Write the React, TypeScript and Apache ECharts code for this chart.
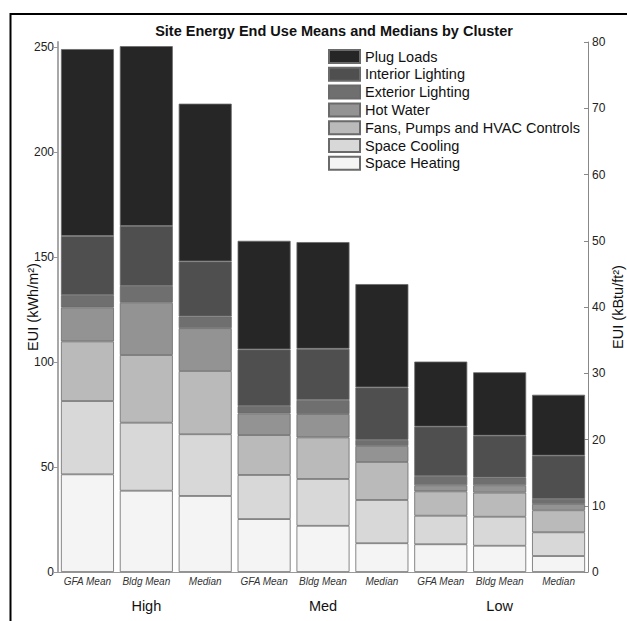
import React, { useEffect, useRef } from "react";
import * as echarts from "echarts";

const categories = ["GFA Mean", "Bldg Mean", "Median", "GFA Mean", "Bldg Mean", "Median", "GFA Mean", "Bldg Mean", "Median"];
const groups = ["High", "Med", "Low"];

const spaceHeating = [46.5, 38.7, 36.2, 25.2, 22.0, 13.7, 13.2, 12.5, 7.6];
const spaceCooling = [34.9, 32.4, 29.4, 21.0, 22.3, 20.6, 13.6, 13.8, 11.3];
const fansPumpsHvac = [28.4, 32.2, 30.1, 19.0, 19.8, 18.1, 11.6, 11.5, 10.5];
const hotWater = [16.2, 24.9, 20.4, 10.3, 11.1, 7.6, 2.9, 3.5, 3.0];
const exteriorLighting = [5.8, 8.0, 5.6, 3.5, 6.7, 2.9, 4.4, 3.6, 2.4];
const interiorLighting = [28.2, 28.6, 26.2, 27.0, 24.4, 25.0, 23.5, 20.0, 20.6];
const plugLoads = [89.0, 85.6, 75.1, 51.7, 50.8, 49.2, 31.0, 30.2, 29.0];

const leftTicks = [0, 50, 100, 150, 200, 250];
const rightMax = 80;
const kbtuToKwh = 3.1546;

const seriesDefs = [
  { name: "Space Heating", data: spaceHeating, color: "#f4f4f4" },
  { name: "Space Cooling", data: spaceCooling, color: "#d8d8d8" },
  { name: "Fans, Pumps and HVAC Controls", data: fansPumpsHvac, color: "#bababa" },
  { name: "Hot Water", data: hotWater, color: "#939393" },
  { name: "Exterior Lighting", data: exteriorLighting, color: "#6f6f6f" },
  { name: "Interior Lighting", data: interiorLighting, color: "#4f4f4f" },
  { name: "Plug Loads", data: plugLoads, color: "#262626" },
];

const FONT = "Liberation Sans, Arial, sans-serif";

export default function App() {
  const ref = useRef<HTMLDivElement>(null);
  useEffect(() => {
    if (!ref.current) return;
    const chart = echarts.init(ref.current, undefined, { renderer: "svg" });
    chart.setOption({
      animation: false,
      backgroundColor: "#ffffff",
      textStyle: { fontFamily: FONT },
      title: {
        text: "Site Energy End Use Means and Medians by Cluster",
        left: 329,
        top: 18,
        textAlign: "center",
        textStyle: { fontFamily: FONT, fontSize: 14.5, fontWeight: "bold", color: "#111" },
      },
      graphic: [
        {
          type: "rect",
          shape: { x: 10.5, y: 14, width: 700, height: 700 },
          style: { fill: "none", stroke: "#000", lineWidth: 2 },
          silent: true,
        },
      ],
      legend: {
        orient: "vertical",
        left: 328,
        top: 49,
        padding: 0,
        itemWidth: 31,
        itemHeight: 13,
        itemGap: 2.8,
        icon: "rect",
        data: [...seriesDefs].reverse().map((s) => s.name),
        textStyle: { fontFamily: FONT, fontSize: 14.5, color: "#111" },
      },
      grid: { left: 58, right: 39, top: 42, bottom: 49, containLabel: false, outerBoundsMode: "none" },
      xAxis: [
        {
          type: "category",
          data: categories,
          axisLine: { lineStyle: { color: "#999", width: 1 } },
          axisTick: { show: false },
          axisLabel: {
            interval: 0,
            fontStyle: "italic",
            fontSize: 10,
            color: "#333",
            margin: 4,
            fontFamily: FONT,
          },
        },
        {
          type: "category",
          data: groups,
          position: "bottom",
          axisLine: { show: false },
          axisTick: { show: false },
          axisLabel: { fontSize: 14.5, color: "#111", margin: 26, fontFamily: FONT },
        },
      ],
      yAxis: [
        {
          type: "value",
          min: 0,
          max: rightMax * kbtuToKwh,
          interval: 50,
          position: "left",
          name: "EUI (kWh/m²)",
          nameLocation: "middle",
          nameRotate: 90,
          nameGap: 18,
          nameMoveOverlap: false,
          nameTextStyle: { fontFamily: FONT, fontSize: 14.5, color: "#111" },
          axisLine: { show: true, lineStyle: { color: "#a8a8a8", width: 2 } },
          axisTick: { show: true, inside: false, length: 4, lineStyle: { color: "#999" }, customValues: leftTicks },
          axisLabel: { fontSize: 12, color: "#222", margin: 4, customValues: leftTicks, fontFamily: FONT },
          splitLine: { show: false },
        },
        {
          type: "value",
          min: 0,
          max: rightMax,
          interval: 10,
          position: "right",
          name: "EUI (kBtu/ft²)",
          nameLocation: "middle",
          nameRotate: 90,
          nameGap: 22,
          nameMoveOverlap: false,
          nameTextStyle: { fontFamily: FONT, fontSize: 14.5, color: "#111" },
          axisLine: { show: true, lineStyle: { color: "#888", width: 1 } },
          axisTick: { show: true, inside: true, length: 4, lineStyle: { color: "#888" } },
          axisLabel: { fontSize: 12, color: "#222", margin: 4, fontFamily: FONT },
          splitLine: { show: false },
        },
      ],
      series: seriesDefs.map((s) => ({
        name: s.name,
        type: "bar",
        stack: "total",
        xAxisIndex: 0,
        yAxisIndex: 0,
        barCategoryGap: "10%",
        data: s.data,
        itemStyle: { color: s.color, borderColor: "#6a6a6a", borderWidth: 0.8 },
        emphasis: { disabled: true },
      })),
    });
    return () => chart.dispose();
  }, []);
  return <div ref={ref} style={{ position: "fixed", left: 0, top: 0, width: 627, height: 621 }} />;
}
